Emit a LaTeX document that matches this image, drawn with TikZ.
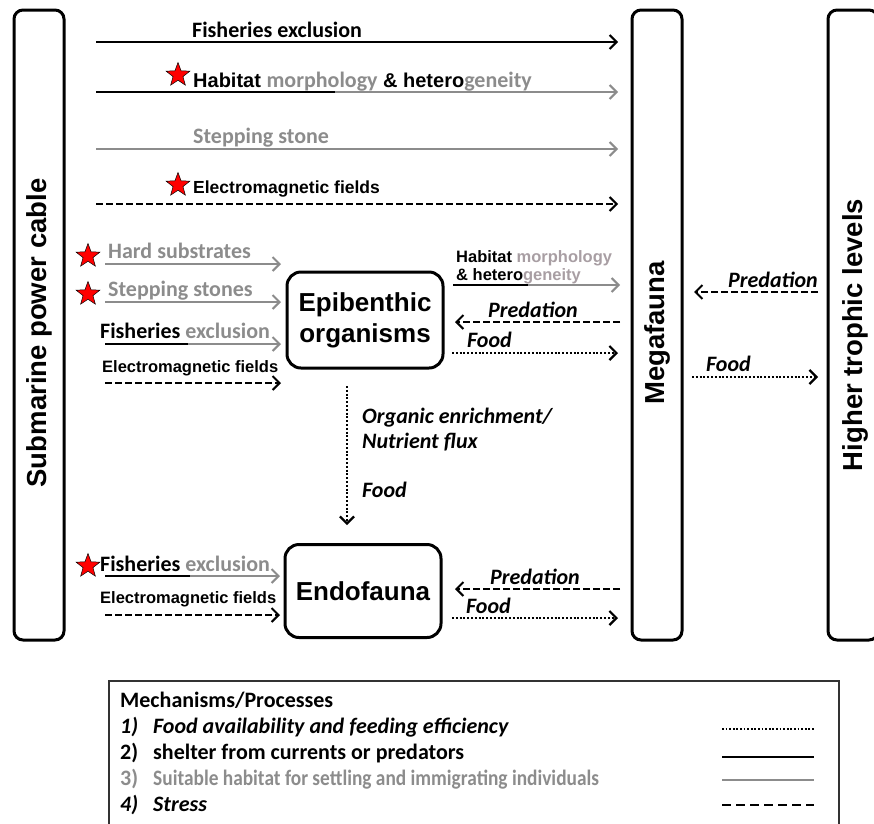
\documentclass[tikz,border=0pt]{standalone}
\usepackage{fontspec}
\setmainfont{Carlito}
\newfontfamily\arialfont{Liberation Sans}
\newfontfamily\califont{Carlito}
\usepackage{tikz}
\usetikzlibrary{positioning,arrows.meta,shapes.geometric}
\definecolor{lgray}{RGB}{140,140,140}
\definecolor{pgray}{RGB}{168,158,163}

\begin{document}
\begin{tikzpicture}[x=1pt, y=-1pt,
    bigbox/.style={draw, line width=3, rounded corners=9, inner sep=0,
                   minimum width=50, minimum height=630},
    sidetxt/.style={rotate=90, inner sep=0, font=\arialfont\bfseries\fontsize{27.5}{30}\selectfont},
    orgbox/.style={draw, line width=3, rounded corners=14, align=center, inner sep=0,
                   font=\arialfont\bfseries\fontsize{26}{31}\selectfont},
    lbl/.style={anchor=base west, inner sep=0, font=\bfseries\fontsize{22}{24}\selectfont},
    albl/.style={anchor=base west, inner sep=0, font=\arialfont\bfseries\fontsize{16.5}{18}\selectfont},
    ilbl/.style={anchor=base west, inner sep=0, font=\bfseries\itshape\fontsize{22}{25}\selectfont},
    leg/.style={anchor=base west, inner sep=0, font=\bfseries\fontsize{22}{24}\selectfont},
    tip/.style={-{Straight Barb[length=7,width=14]}},
    blkarr/.style={line width=2},
    gryarr/.style={line width=2, lgray},
    dasharr/.style={line width=2, dash pattern=on 7 off 3},
    dotarr/.style={line width=2.2, dash pattern=on 2 off 1.8},
    redstar/.style={star, star points=5, star point ratio=2.4, draw=black, line width=0.5,
                    fill=red, minimum size=25, inner sep=0}]
  \useasboundingbox (0,0) rectangle (874,823);
  % side boxes
  \node[bigbox] (cable) at (39,325) {};
  \node[sidetxt] (cabletxt) at (39,333) {Submarine power cable};
  \node[bigbox] (mega) at (657,325) {};
  \node[sidetxt] (megatxt) at (657,333) {Megafauna};
  \node[bigbox] (higher) at (853,325) {};
  \node[sidetxt] (highertxt) at (855,335) {Higher trophic levels};
  % organism boxes
  \node[orgbox, minimum width=156, minimum height=96] (epi) at (365,320) {Epibenthic\\organisms};
  \node[orgbox, minimum width=156, minimum height=93] (endo) at (363,591) {Endofauna};
  % arrow end points
  \coordinate (fe1s) at (96,42);   \coordinate (fe1e) at (618,42);
  \coordinate (hm1s) at (96,92);   \coordinate (hm1m) at (335,92);  \coordinate (hm1e) at (618,92);
  \coordinate (ss1s) at (96,149);  \coordinate (ss1e) at (618,149);
  \coordinate (em1s) at (96,204);  \coordinate (em1e) at (618,204);
  \coordinate (hs2s) at (105,264); \coordinate (hs2e) at (281,264);
  \coordinate (ss2s) at (105,302); \coordinate (ss2e) at (281,302);
  \coordinate (fe2s) at (105,344); \coordinate (fe2m) at (188,344); \coordinate (fe2e) at (281,344);
  \coordinate (em2s) at (105,383); \coordinate (em2e) at (281,383);
  \coordinate (hm3s) at (453,285); \coordinate (hm3m) at (528,285); \coordinate (hm3e) at (620,285);
  \coordinate (pr3s) at (620,322); \coordinate (pr3e) at (455,322);
  \coordinate (fd3s) at (452,353); \coordinate (fd3e) at (618,353);
  \coordinate (pr4s) at (818,292); \coordinate (pr4e) at (694,292);
  \coordinate (fd4s) at (692,377); \coordinate (fd4e) at (818,377);
  \coordinate (oe5s) at (347,386); \coordinate (oe5e) at (347,525);
  \coordinate (fe6s) at (105,576); \coordinate (fe6m) at (190,576); \coordinate (fe6e) at (280,576);
  \coordinate (em6s) at (105,615); \coordinate (em6e) at (280,615);
  \coordinate (pr7s) at (620,589); \coordinate (pr7e) at (455,589);
  \coordinate (fd7s) at (452,618); \coordinate (fd7e) at (618,618);
  % cable -> megafauna
  \draw[blkarr, tip] (fe1s) -- (fe1e);
  \node[lbl] (fe1) at (192,37) {Fisheries exclusion};
  \draw[blkarr] (hm1s) -- (hm1m);
  \draw[gryarr, tip] (hm1m) -- (hm1e);
  \node[redstar] (st1) at (178,75) {};
  \node[albl, font=\arialfont\bfseries\fontsize{20}{22}\selectfont] (hm1) at (193,87)
    {Habitat {\califont\color{lgray}\fontsize{22}{22}\selectfont morphology} \& hetero{\califont\color{lgray}\fontsize{22}{22}\selectfont geneity}};
  \draw[gryarr, tip] (ss1s) -- (ss1e);
  \node[lbl, lgray] (ss1) at (193,143) {Stepping stone};
  \draw[dasharr, tip] (em1s) -- (em1e);
  \node[redstar] (st2) at (178,185) {};
  \node[albl, font=\arialfont\bfseries\fontsize{17.5}{20}\selectfont] (em1) at (193,193) {Electromagnetic fields};
  % cable -> epibenthic organisms
  \draw[gryarr, tip] (hs2s) -- (hs2e);
  \node[redstar] (st3) at (88,256) {};
  \node[lbl, lgray] (hs2) at (108,258) {Hard substrates};
  \draw[gryarr, tip] (ss2s) -- (ss2e);
  \node[redstar] (st4) at (88,294) {};
  \node[lbl, lgray] (ss2) at (108,296) {Stepping stones};
  \draw[blkarr] (fe2s) -- (fe2m);
  \draw[gryarr, tip] (fe2m) -- (fe2e);
  \node[lbl] (fe2) at (100,338) {Fisheries {\color{lgray}exclusion}};
  \draw[dasharr, tip] (em2s) -- (em2e);
  \node[albl] (em2) at (102,372) {Electromagnetic fields};
  % epibenthic organisms <-> megafauna
  \draw[blkarr] (hm3s) -- (hm3m);
  \draw[gryarr, tip] (hm3m) -- (hm3e);
  \node[albl, align=left] (hm3) at (456,280) {Habitat {\color{pgray}morphology}\\\& hetero{\color{pgray}geneity}};
  \draw[dasharr, tip] (pr3s) -- (pr3e);
  \node[ilbl] (pr3) at (488,317) {Predation};
  \draw[dotarr, tip] (fd3s) -- (fd3e);
  \node[ilbl] (fd3) at (467,347) {Food};
  % megafauna <-> higher trophic levels
  \draw[dasharr, tip] (pr4s) -- (pr4e);
  \node[ilbl] (pr4) at (728,287) {Predation};
  \draw[dotarr, tip] (fd4s) -- (fd4e);
  \node[ilbl] (fd4) at (706,371) {Food};
  % epibenthic organisms -> endofauna
  \draw[dotarr, tip] (oe5s) -- (oe5e);
  \node[ilbl] (oe5) at (362,423) {Organic enrichment/};
  \node[ilbl] (nf5) at (362,448) {Nutrient flux};
  \node[ilbl] (fd5) at (362,497) {Food};
  % cable -> endofauna
  \draw[blkarr] (fe6s) -- (fe6m);
  \draw[gryarr, tip] (fe6m) -- (fe6e);
  \node[redstar] (st5) at (88,566) {};
  \node[lbl] (fe6) at (100,571) {Fisheries {\color{lgray}exclusion}};
  \draw[dasharr, tip] (em6s) -- (em6e);
  \node[albl] (em6) at (100,603) {Electromagnetic fields};
  % endofauna <-> megafauna
  \draw[dasharr, tip] (pr7s) -- (pr7e);
  \node[ilbl] (pr7) at (490,584) {Predation};
  \draw[dotarr, tip] (fd7s) -- (fd7e);
  \node[ilbl] (fd7) at (466,613) {Food};
  % legend
  \node[draw=black!80, line width=1.5, anchor=north west, minimum width=730, minimum height=160, inner sep=0] (legend) at (108,680) {};
  \node[leg] (legt) at (120,707) {Mechanisms/Processes};
  \node[leg, font=\bfseries\itshape\fontsize{22}{24}\selectfont] (leg1) at (120,733) {\makebox[33pt][l]{1)}Food availability and feeding efficiency};
  \node[leg] (leg2) at (120,759) {\makebox[33pt][l]{2)}shelter from currents or predators};
  \node[leg, lgray] (leg3) at (120,785) {\makebox[33pt][l]{3)}\scalebox{0.88}[1]{Suitable habitat for settling and immigrating individuals}};
  \node[leg, font=\bfseries\itshape\fontsize{22}{24}\selectfont] (leg4) at (120,811) {\makebox[33pt][l]{4)}Stress};
  \coordinate (l1s) at (722,729); \coordinate (l1e) at (814,729);
  \coordinate (l2s) at (722,757); \coordinate (l2e) at (814,757);
  \coordinate (l3s) at (722,780); \coordinate (l3e) at (814,780);
  \coordinate (l4s) at (722,805); \coordinate (l4e) at (814,805);
  \draw[line width=2, dash pattern=on 1.8 off 1.8] (l1s) -- (l1e);
  \draw[line width=2.6] (l2s) -- (l2e);
  \draw[line width=2, lgray] (l3s) -- (l3e);
  \draw[line width=2, dash pattern=on 9 off 5] (l4s) -- (l4e);
\end{tikzpicture}
\end{document}
